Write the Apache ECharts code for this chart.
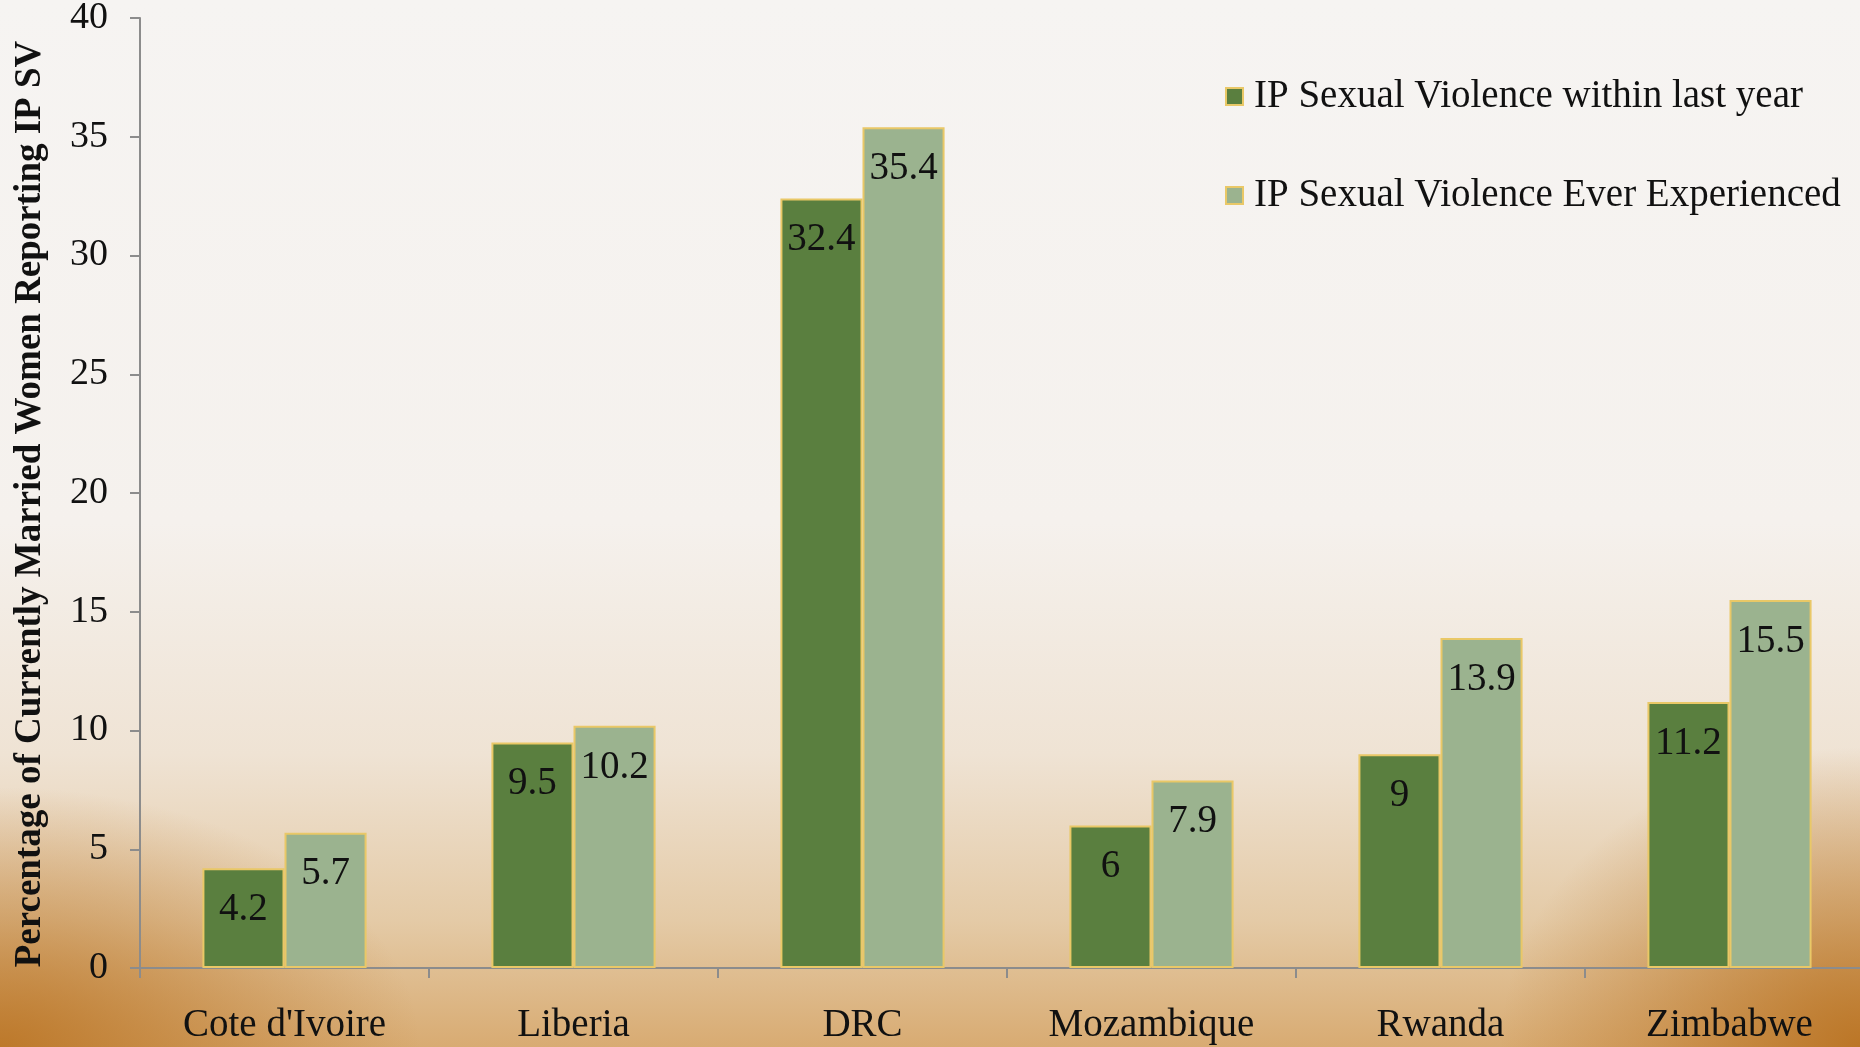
<!DOCTYPE html>
<html>
<head>
<meta charset="utf-8" />
<title>IP Sexual Violence</title>
<script src="https://cdn.jsdelivr.net/npm/echarts@6/dist/echarts.min.js"></script>
<style>
  html, body { margin: 0; padding: 0; }
  body {
    width: 1860px; height: 1047px; overflow: hidden;
    background:
      radial-gradient(ellipse 420px 260px at 0% 100%, rgba(184,112,30,0.85), rgba(184,112,30,0) 100%),
      radial-gradient(ellipse 360px 300px at 100% 100%, rgba(184,112,30,0.9), rgba(184,112,30,0) 100%),
      linear-gradient(to bottom, #f6f4f2 0%, #f5f1ed 50%, #efe3d4 72%, #e4caa6 88%, #d8ab72 100%);
  }
  #main { width: 1860px; height: 1047px; }
</style>
</head>
<body>
<div id="main"></div>
<script type="text/javascript">
    var countries = ['Cote d\'Ivoire', 'Liberia', 'DRC', 'Mozambique', 'Rwanda', 'Zimbabwe'];
    var lastYear = [4.2, 9.5, 32.4, 6, 9, 11.2];
    var everExp = [5.7, 10.2, 35.4, 7.9, 13.9, 15.5];
    var seriesNames = ['IP Sexual Violence within last year', 'IP Sexual Violence Ever Experienced'];

    var serif = '"Liberation Serif", "DejaVu Serif", serif';
    var myChart = echarts.init(document.getElementById('main'));

    // label inside the top of each bar
    var barLabel = {
        show: true,
        position: 'insideTop',
        distance: 22,
        color: '#111',
        fontFamily: serif,
        fontSize: 39
    };

    var option = {
        backgroundColor: 'transparent',
        animation: false,
        grid: { left: 140, top: 18, width: 1734, height: 950, outerBoundsMode: 'none', containLabel: false },
        legend: {
            orient: 'vertical',
            left: 1220,
            top: 72,
            itemGap: 60,
            itemWidth: 17,
            itemHeight: 17,
            icon: 'rect',
            textStyle: { fontFamily: serif, fontSize: 39, color: '#111', padding: [0, 0, 0, 6] },
            data: seriesNames
        },
        xAxis: {
            type: 'category',
            data: countries,
            axisLine: { lineStyle: { color: '#8c8c8c', width: 2 } },
            axisTick: { show: true, length: 10, lineStyle: { color: '#8c8c8c', width: 2 } },
            axisLabel: { fontFamily: serif, fontSize: 39, color: '#111', margin: 38 }
        },
        yAxis: {
            type: 'value',
            min: 0,
            max: 40,
            interval: 5,
            name: 'Percentage of Currently Married Women Reporting IP SV',
            nameLocation: 'middle',
            nameGap: 91,
            nameTextStyle: { fontFamily: serif, fontSize: 37, fontWeight: 'bold', color: '#111', padding: [0, 22, 0, 0] },
            splitLine: { show: false },
            axisLine: { show: true, lineStyle: { color: '#8c8c8c', width: 2 } },
            axisTick: { show: true, length: 10, lineStyle: { color: '#8c8c8c', width: 2 } },
            axisLabel: { fontFamily: serif, fontSize: 38, color: '#111', margin: 32 }
        },
        series: [
            {
                name: seriesNames[0],
                type: 'bar',
                barWidth: '28.4%',
                barGap: '0%',
                data: lastYear,
                itemStyle: { color: '#5a7f3f', borderColor: '#e9c867', borderWidth: 2 },
                label: barLabel
            },
            {
                name: seriesNames[1],
                type: 'bar',
                barWidth: '28.4%',
                barGap: '0%',
                data: everExp,
                itemStyle: { color: '#9bb38f', borderColor: '#e9c867', borderWidth: 2 },
                label: barLabel
            }
        ]
    };

    myChart.setOption(option);
</script>
</body>
</html>
